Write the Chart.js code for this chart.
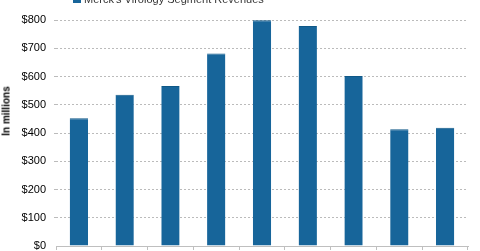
<!DOCTYPE html>
<html>
<head>
<meta charset="utf-8">
<script src="https://cdn.jsdelivr.net/npm/chart.js@4"></script>
<style>
  html, body { margin: 0; padding: 0; background: #fff; }
  #wrap { position: relative; width: 480px; height: 251px; overflow: hidden; }
  #legend { position: absolute; left: 73px; top: -7px; font: 11px "Liberation Sans", Arial, sans-serif; color: #333; white-space: nowrap; }
  #legend span.sw { display: inline-block; width: 8px; height: 8px; background: #17659a; margin-right: 3px; }
  #ytitle { position: absolute; left: 6px; top: 111px; transform: translate(-50%, -50%) rotate(-90deg);
            font: bold 10px "Liberation Sans", Arial, sans-serif; color: #000; white-space: nowrap; }
</style>
</head>
<body>
<div id="wrap">
  <canvas id="revChart" width="480" height="251"></canvas>
  <div id="legend"><span class="sw"></span>Merck's Virology Segment Revenues</div>
  <div id="ytitle">In millions</div>
</div>
<script>
// Chart data
const categories = ['1', '2', '3', '4', '5', '6', '7', '8', '9'];
const revenues = [452, 535, 566, 681, 799, 779, 602, 413, 419];
const yTicks = [0, 100, 200, 300, 400, 500, 600, 700, 800];

const ctx = document.getElementById('revChart').getContext('2d');
const revChart = new Chart(ctx, {
    type: 'bar',
    data: {
        labels: categories,
        datasets: [{
            label: "Merck's Virology Segment Revenues",
            data: revenues,
            backgroundColor: '#17659a',
            borderColor: '#0f5887',
            borderWidth: { top: 1, left: 0, right: 0, bottom: 0 },
            categoryPercentage: 1,
            barPercentage: 0.4
        }]
    },
    options: {
        responsive: false,
        animation: false,
        layout: { padding: { top: 20, right: 12, bottom: 0, left: 0 } },
        plugins: {
            legend: { display: false },
            tooltip: { enabled: false }
        },
        scales: {
            x: {
                offset: true,
                ticks: { display: false },
                afterFit: s => { s.height = 5; s.paddingLeft = 0; s.paddingRight = 0; },
                grid: { offset: true, drawOnChartArea: false, tickLength: 4, color: '#bfbfbf' },
                border: { color: '#bfbfbf', width: 1 }
            },
            y: {
                min: 0,
                max: 800,
                afterBuildTicks: s => { s.ticks = yTicks.map(v => ({ value: v })); },
                afterFit: s => { s.width = 56; s.paddingTop = 0; s.paddingBottom = 0; },
                ticks: {
                    color: '#000',
                    padding: 8,
                    font: { family: 'Liberation Sans', size: 11 },
                    callback: v => '$' + v
                },
                grid: {
                    color: ctx => ctx.tick && ctx.tick.value === 0 ? 'rgba(0,0,0,0)' : '#bbbbbb',
                    tickLength: 2
                },
                border: { display: false, dash: [2, 2] }
            }
        }
    }
});
</script>
</body>
</html>
